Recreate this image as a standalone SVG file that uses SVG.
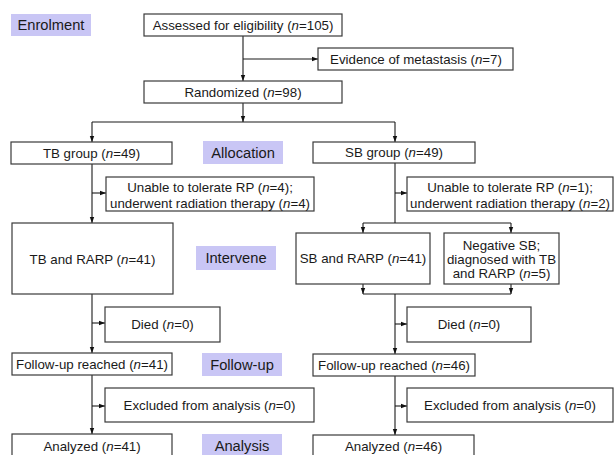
<svg xmlns="http://www.w3.org/2000/svg" width="614" height="455" viewBox="0 0 614 455">
<defs>
<marker id="ah" markerUnits="userSpaceOnUse" markerWidth="6" markerHeight="6" viewBox="0 0 6 6" refX="6" refY="3" orient="auto">
<path d="M0,0.8 L6,3 L0,5.2 Z" fill="#111"/>
</marker>
<style>
.box{fill:#fff;stroke:#3a3a3a;stroke-width:1.2}
.lab{fill:#c9c6f5}
text{font-family:"Liberation Sans",Arial,sans-serif;font-size:13.3px;fill:#1a1a1a;text-anchor:middle}
.lt{font-size:14.7px}
.i{font-style:italic}
.c{fill:none;stroke:#1a1a1a;stroke-width:1.1}
.a{marker-end:url(#ah)}
</style>
</defs>
<rect width="614" height="455" fill="#fff"/>

<g id="conn">
<path class="c a" d="M243 36 V81"/>
<path class="c a" d="M243 59 H318"/>
<path class="c a" d="M243 103 V122"/>
<path class="c" d="M92 122 H395"/>
<path class="c a" d="M92 122 V142"/>
<path class="c a" d="M395 122 V142"/>
<path class="c a" d="M92 164 V223"/>
<path class="c a" d="M92 193 H106"/>
<path class="c" d="M395 163 V223"/>
<path class="c a" d="M395 193 H407"/>
<path class="c" d="M363 223 H511"/>
<path class="c a" d="M363 223 V233"/>
<path class="c a" d="M511 223 V233"/>
<path class="c a" d="M363 284 V294"/>
<path class="c a" d="M511 284 V294"/>
<path class="c" d="M363 294 H511"/>
<path class="c a" d="M395 294 V354"/>
<path class="c a" d="M395 324 H407"/>
<path class="c a" d="M92 294 V353"/>
<path class="c a" d="M92 323 H105"/>
<path class="c a" d="M92 375 V434"/>
<path class="c a" d="M92 406 H105"/>
<path class="c a" d="M395 376 V435"/>
<path class="c a" d="M395 406 H407"/>
</g>

<g id="lbl-enrolment"><rect class="lab" x="11" y="14" width="80" height="22"/><text class="lt" x="51" y="30.2">Enrolment</text></g>
<g id="lbl-allocation"><rect class="lab" x="203" y="141" width="80" height="23"/><text class="lt" x="243" y="157.7">Allocation</text></g>
<g id="lbl-intervene"><rect class="lab" x="196" y="246" width="80" height="24"/><text class="lt" x="236" y="263.2">Intervene</text></g>
<g id="lbl-followup"><rect class="lab" x="202" y="353" width="80" height="23"/><text class="lt" x="242" y="369.7">Follow-up</text></g>
<g id="lbl-analysis"><rect class="lab" x="202" y="434" width="80" height="25"/><text class="lt" x="242" y="450.5">Analysis</text></g>

<g id="assessed"><rect class="box" x="144" y="14" width="198" height="22"/><text x="243" y="29.8">Assessed for eligibility (<tspan class="i">n</tspan>=105)</text></g>
<g id="metastasis"><rect class="box" x="318" y="48" width="195" height="22"/><text x="416" y="63.8">Evidence of metastasis (<tspan class="i">n</tspan>=7)</text></g>
<g id="randomized"><rect class="box" x="144" y="81" width="198" height="22"/><text x="243" y="96.8">Randomized (<tspan class="i">n</tspan>=98)</text></g>

<g id="tb-group"><rect class="box" x="11" y="142" width="161" height="22"/><text x="91.5" y="157.8">TB group (<tspan class="i">n</tspan>=49)</text></g>
<g id="sb-group"><rect class="box" x="313" y="142" width="162" height="21"/><text x="394" y="157.3">SB group (<tspan class="i">n</tspan>=49)</text></g>

<g id="tb-unable"><rect class="box" x="106" y="177" width="208" height="34"/><text x="210" y="192">Unable to tolerate RP (<tspan class="i">n</tspan>=4);</text><text x="210" y="208">underwent radiation therapy (<tspan class="i">n</tspan>=4)</text></g>
<g id="sb-unable"><rect class="box" x="407" y="177" width="206" height="34"/><text x="510" y="192">Unable to tolerate RP (<tspan class="i">n</tspan>=1);</text><text x="510" y="208">underwent radiation therapy (<tspan class="i">n</tspan>=2)</text></g>

<g id="tb-rarp"><rect class="box" x="12" y="223" width="161" height="71"/><text x="92.5" y="263.5">TB and RARP (<tspan class="i">n</tspan>=41)</text></g>
<g id="sb-rarp"><rect class="box" x="296" y="233" width="134" height="51"/><text x="363" y="263.3">SB and RARP (<tspan class="i">n</tspan>=41)</text></g>
<g id="negative-sb"><rect class="box" x="444" y="233" width="115" height="51"/><text x="501.5" y="249.8">Negative SB;</text><text x="501.5" y="264">diagnosed with TB</text><text x="501.5" y="278.2">and RARP (<tspan class="i">n</tspan>=5)</text></g>

<g id="tb-died"><rect class="box" x="105" y="307" width="115" height="35"/><text x="162.5" y="328.8">Died (<tspan class="i">n</tspan>=0)</text></g>
<g id="sb-died"><rect class="box" x="407" y="307" width="124" height="35"/><text x="469" y="328.8">Died (<tspan class="i">n</tspan>=0)</text></g>

<g id="tb-followup"><rect class="box" x="12" y="353" width="160" height="22"/><text x="92" y="368.8">Follow-up reached (<tspan class="i">n</tspan>=41)</text></g>
<g id="sb-followup"><rect class="box" x="313" y="354" width="162" height="22"/><text x="394" y="369.8">Follow-up reached (<tspan class="i">n</tspan>=46)</text></g>

<g id="tb-excluded"><rect class="box" x="105" y="388" width="209" height="34"/><text x="209.5" y="409.8">Excluded from analysis (<tspan class="i">n</tspan>=0)</text></g>
<g id="sb-excluded"><rect class="box" x="407" y="388" width="206" height="34"/><text x="510" y="409.8">Excluded from analysis (<tspan class="i">n</tspan>=0)</text></g>

<g id="tb-analyzed"><rect class="box" x="12" y="434" width="160" height="30"/><text x="92" y="450.8">Analyzed (<tspan class="i">n</tspan>=41)</text></g>
<g id="sb-analyzed"><rect class="box" x="313" y="435" width="161" height="30"/><text x="393.5" y="451.3">Analyzed (<tspan class="i">n</tspan>=46)</text></g>
</svg>
